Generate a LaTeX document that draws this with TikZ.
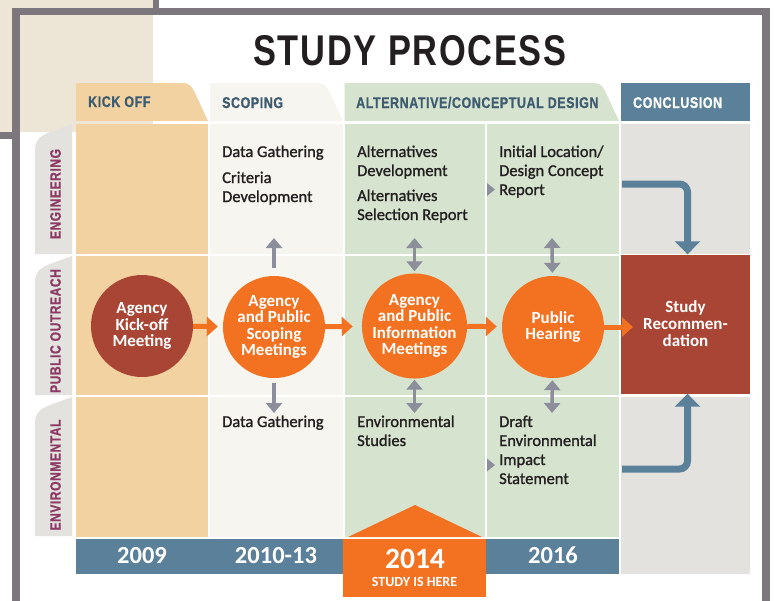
\documentclass[tikz,border=0pt]{standalone}
\usepackage{fontspec}
\setmainfont{Carlito}
\newfontfamily\bodyf{Carlito}[FakeBold=1.2]
\newfontfamily\condf{Liberation Sans}[FakeStretch=0.8,LetterSpace=4,FakeBold=0.8]
\newfontfamily\titlef{Liberation Sans}[FakeStretch=0.8,LetterSpace=4]
\usetikzlibrary{arrows.meta}
\definecolor{peach}{HTML}{F2D2A1}
\definecolor{cream}{HTML}{F7F5EF}
\definecolor{sage}{HTML}{D6E4CF}
\definecolor{lgray}{HTML}{E3E2DE}
\definecolor{steel}{HTML}{5B8099}
\definecolor{brick}{HTML}{A94535}
\definecolor{orng}{HTML}{F37221}
\definecolor{arrgray}{HTML}{8C8E9B}
\definecolor{slate}{HTML}{3E5B70}
\definecolor{plum}{HTML}{8C3A64}
\definecolor{framegray}{HTML}{7B777D}
\definecolor{beige}{HTML}{EDE6D7}
\definecolor{ink}{HTML}{231F20}
\begin{document}
\begin{tikzpicture}[x=1pt,y=-1pt,
  txt/.style={anchor=base west, inner sep=0, text=ink, font=\bodyf\fontsize{16.5}{19}\selectfont},
  hdr/.style={anchor=base west, inner sep=0, font=\condf\bfseries\fontsize{15.5}{16}\selectfont},
  lbl/.style={rotate=90, inner sep=0, text=plum, font=\condf\bfseries\fontsize{15}{16}\selectfont},
  circ/.style={circle, inner sep=0, minimum size=102pt, align=center, text=white, font=\bfseries\fontsize{17}{16.5}\selectfont},
  yr/.style={anchor=base, inner sep=0, text=white, font=\bfseries\fontsize{24.5}{26}\selectfont},
  oarr/.style={draw=orng, line width=5pt, -{Triangle[length=11pt,width=19pt]}},
  garr/.style={draw=arrgray, line width=3.5pt, -{Triangle[length=10pt,width=16pt]}},
  gdarr/.style={draw=arrgray, line width=3.5pt, {Triangle[length=10pt,width=16pt]}-{Triangle[length=10pt,width=16pt]}},
  barr/.style={draw=steel, line width=7pt, rounded corners=8pt, -{Triangle[length=13pt,width=25pt]}},
]
\clip (0,0) rectangle (774,600);
\fill[white] (0,0) rectangle (774,600);
% paper behind
\fill[framegray] (0,0) rectangle (159,139);
\fill[beige] (0,0) rectangle (153,132);
\fill[white] (19,15) rectangle (762,620);
\fill[beige] (19,15) rectangle (153,132);
\draw[framegray, line width=7.5pt] (15.75,11.25) rectangle (766,640);
% title
\node[anchor=base, inner sep=0, text=ink, font=\titlef\bfseries\fontsize{43}{45}\selectfont] (title) at (410,65) {STUDY PROCESS};
% header tabs
\fill[peach] (76,121) -- (76,83) -- (183,83) .. controls (190,83) and (192,87) .. (195,93) -- (208,121) -- cycle;
\fill[cream] (210,121) -- (210,83) -- (318,83) .. controls (325,83) and (327,87) .. (330,93) -- (343,121) -- cycle;
\fill[sage] (344.5,121) -- (344.5,83) -- (594,83) .. controls (601,83) and (603,87) .. (606,93) -- (619,121) -- cycle;
\fill[steel] (621,83) rectangle (750,121);
\node[hdr, text=slate] (h1) at (88,107) {KICK OFF};
\node[hdr, text=slate] (h2) at (222,108) {SCOPING};
\node[hdr, text=slate] (h3) at (356,108) {ALTERNATIVE/CONCEPTUAL DESIGN};
\node[hdr, text=white] (h4) at (633,108) {CONCLUSION};
% grid cells
\fill[peach] (76,124) rectangle (208,254);
\fill[peach] (76,256) rectangle (208,395);
\fill[peach] (76,397) rectangle (208,537);
\fill[cream] (210,124) rectangle (343,254);
\fill[cream] (210,256) rectangle (343,395);
\fill[cream] (210,397) rectangle (343,537);
\fill[sage] (344.5,124) rectangle (485,254);
\fill[sage] (344.5,256) rectangle (485,395);
\fill[sage] (344.5,397) rectangle (485,537);
\fill[sage] (487,124) rectangle (619,254);
\fill[sage] (487,256) rectangle (619,395);
\fill[sage] (487,397) rectangle (619,537);
\fill[lgray] (621,124) rectangle (750,254);
\fill[lgray] (621,397) rectangle (750,574);
% row label tabs
\fill[lgray] (72,254) -- (72,124) -- (50,132) .. controls (40,136) and (35,140) .. (35,151) -- (35,254) -- cycle;
\fill[lgray] (72,395) -- (72,256) -- (50,264) .. controls (40,268) and (35,272) .. (35,283) -- (35,395) -- cycle;
\fill[lgray] (72,536) -- (72,397) -- (50,405) .. controls (40,409) and (35,413) .. (35,423) -- (35,536) -- cycle;
\node[lbl] (l1) at (55.5,194) {ENGINEERING};
\node[lbl] (l2) at (55.5,331) {PUBLIC OUTREACH};
\node[lbl] (l3) at (55.5,475) {ENVIRONMENTAL};
% year bar
\fill[steel] (76,539) rectangle (619,574);
\fill[orng] (343,539) rectangle (486,597);
\fill[orng] (348,537) -- (482,537) -- (415,505) -- cycle;
\node[yr] (y1) at (142,563) {2009};
\node[yr] (y2) at (276,563) {2010-13};
\node[yr, font=\bfseries\fontsize{29.5}{30}\selectfont] (y3) at (415,568) {2014};
\node[yr, font=\bfseries\fontsize{14}{15}\selectfont] (y4) at (414.5,586) {STUDY IS HERE};
\node[yr] (y5) at (553,563) {2016};
% conclusion box
\node[fill=brick, minimum width=129pt, minimum height=139pt, inner sep=0, align=center, text=white, font=\bfseries\fontsize{17}{17}\selectfont] (rec) at (685.5,324) {Study\\Recommen-\\dation};
% circles
\node[circ, fill=brick] (k1) at (142,326) {Agency\\Kick-off\\Meeting};
\node[circ, fill=orng] (k2) at (274,327) {Agency\\and Public\\Scoping\\Meetings};
\node[circ, fill=orng] (k3) at (414.5,326) {Agency\\and Public\\Information\\Meetings};
\node[circ, fill=orng] (k4) at (553,327) {Public\\Hearing};
% orange arrows
\coordinate (o4) at (633,327);
\draw[oarr, shorten >=5pt] (k1) -- (k2);
\draw[oarr, shorten >=9pt] (k2) -- (k3);
\draw[oarr, shorten >=5pt] (k3) -- (k4);
\draw[oarr] (k4) -- (o4);
% gray arrows
\coordinate (s2u) at (274,238);
\coordinate (s2d) at (274,413);
\coordinate (s3u) at (414.5,238);
\coordinate (s3d) at (414.5,413);
\coordinate (s4u) at (552,238);
\coordinate (s4d) at (552,413);
\draw[garr, shorten <=8pt] (k2) -- (s2u);
\draw[garr, shorten <=5pt] (k2) -- (s2d);
\draw[gdarr, shorten <=2pt] (k3) -- (s3u);
\draw[gdarr, shorten <=1pt] (k3) -- (s3d);
\draw[gdarr, shorten <=3pt] (k4) -- (s4u);
\draw[gdarr, shorten <=2pt] (k4) -- (s4d);
\fill[arrgray] (487,183) -- (495,189.5) -- (487,196) -- cycle;
\fill[arrgray] (487,458.5) -- (495,465) -- (487,471.5) -- cycle;
% blue connectors
\coordinate (b1) at (622,184);
\coordinate (b2) at (622,469);
\draw[barr] (b1) -| ([xshift=2pt]rec.north);
\draw[barr] (b2) -| ([xshift=2pt]rec.south);
% texts
\node[txt] (t1) at (222,157) {Data Gathering};
\node[txt] (t2) at (222,183) {Criteria};
\node[txt] (t3) at (222,202) {Development};
\node[txt] (t4) at (357,157) {Alternatives};
\node[txt] (t5) at (357,176) {Development};
\node[txt] (t6) at (357,201) {Alternatives};
\node[txt] (t7) at (357,220) {Selection Report};
\node[txt] (t8) at (499,157) {Initial Location/};
\node[txt] (t9) at (499,176) {Design Concept};
\node[txt] (t10) at (499,195) {Report};
\node[txt] (t11) at (222,427) {Data Gathering};
\node[txt] (t12) at (357,427) {Environmental};
\node[txt] (t13) at (357,446) {Studies};
\node[txt] (t14) at (499,427) {Draft};
\node[txt] (t15) at (499,446) {Environmental};
\node[txt] (t16) at (499,465) {Impact};
\node[txt] (t17) at (499,484) {Statement};
\end{tikzpicture}
\end{document}
